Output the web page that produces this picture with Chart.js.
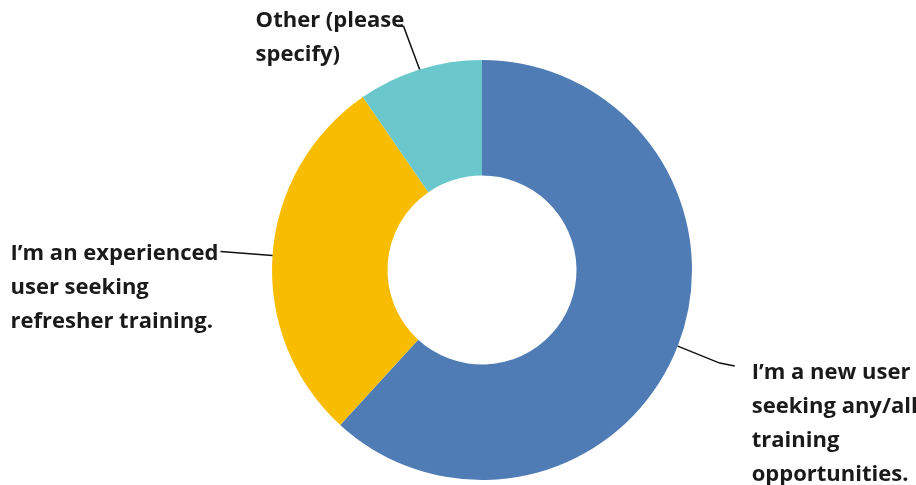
<!DOCTYPE html>
<html>
<head>
<meta charset="utf-8">
<script src="https://cdn.jsdelivr.net/npm/chart.js@4"></script>
<style>
  html, body { margin: 0; padding: 0; background: #fff; }
  #wrap { width: 916px; height: 485px; }
</style>
</head>
<body>
<div id="wrap"><canvas id="donut"></canvas></div>
<script>
// data (share of responses, %)
var answers = [
  ["I\u2019m a new user", "seeking any/all", "training", "opportunities."],
  ["I\u2019m an experienced", "user seeking", "refresher training."],
  ["Other (please", "specify)"]
];
var shares = [61.8, 28.6, 9.6];
var sliceColors = ['#507cb6', '#f8bd00', '#6ac7cc'];

// where each label sits relative to the outer mid point of its slice
var labelPlace = [
  { elbow: [42, 17], end: [57, 20], text: [74, 27], align: 'left' },
  { elbow: [-52, -4], text: [-262, -2], align: 'left' },
  { elbow: [-16, -43], end: [-22, -44], text: [-164, -49], align: 'left' }
];

var FONT = 'bold 22px "Open Sans", Lato, sans-serif';

var leaderLabels = {
  id: 'leaderLabels',
  afterDraw: function (chart) {
    var ctx = chart.ctx;
    var arcs = chart.getDatasetMeta(0).data;
    ctx.save();
    ctx.font = FONT;
    ctx.fillStyle = '#1a1a1a';
    ctx.strokeStyle = '#111';
    ctx.lineWidth = 1.5;
    ctx.textBaseline = 'middle';
    arcs.forEach(function (arc, i) {
      var p = arc.getProps(['x', 'y', 'startAngle', 'endAngle', 'outerRadius'], true);
      var mid = (p.startAngle + p.endAngle) / 2;
      var sx = p.x + Math.cos(mid) * p.outerRadius;
      var sy = p.y + Math.sin(mid) * p.outerRadius;
      var lp = labelPlace[i];
      ctx.beginPath();
      ctx.moveTo(sx, sy);
      ctx.lineTo(sx + lp.elbow[0], sy + lp.elbow[1]);
      if (lp.end) ctx.lineTo(sx + lp.end[0], sy + lp.end[1]);
      ctx.stroke();
      ctx.textAlign = lp.align;
      answers[i].forEach(function (line, k) {
        ctx.fillText(line, sx + lp.text[0], sy + lp.text[1] + k * 34);
      });
    });
    ctx.restore();
  }
};

new Chart(document.getElementById('donut'), {
  type: 'doughnut',
  data: {
    labels: answers.map(function (a) { return a.join(' '); }),
    datasets: [{
      data: shares,
      backgroundColor: sliceColors,
      borderWidth: 0
    }]
  },
  options: {
    responsive: true,
    maintainAspectRatio: false,
    animation: false,
    cutout: '45%',
    layout: { padding: { left: 272, right: 224, top: 60, bottom: 5 } },
    plugins: {
      legend: { display: false },
      tooltip: { enabled: false }
    }
  },
  plugins: [leaderLabels]
});
</script>
</body>
</html>
